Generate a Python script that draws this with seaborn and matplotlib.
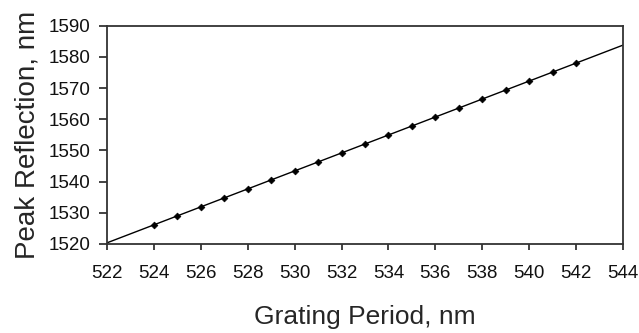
import numpy as np
import pandas as pd
import matplotlib
matplotlib.use("Agg")
import matplotlib.pyplot as plt
import seaborn as sns

# Data
grating_period = [524, 525, 526, 527, 528, 529, 530, 531, 532, 533,
                  534, 535, 536, 537, 538, 539, 540, 541, 542]
peak_reflection = [1526.1, 1529.1, 1531.8, 1534.9, 1537.7, 1540.5, 1543.4, 1546.2, 1549.3, 1552.0,
                   1555.0, 1557.9, 1560.7, 1563.6, 1566.4, 1569.4, 1572.2, 1575.2, 1578.0]
x_ticks = list(range(522, 545, 2))
y_ticks = list(range(1520, 1591, 10))

sns.set_style("ticks")
plt.rcParams['font.family'] = ['Liberation Sans', 'DejaVu Sans']

df = pd.DataFrame({"period": grating_period, "peak": peak_reflection})

# linear trendline across the axis range
coef = np.polyfit(df["period"], df["peak"], 1)
trend_x = np.array([x_ticks[0], x_ticks[-1]])
trend = pd.DataFrame({"period": trend_x, "peak": np.polyval(coef, trend_x)})

fig = plt.figure(figsize=(6.39, 3.33), dpi=100)
ax = fig.add_axes([107/639, 1 - 244/333, (623 - 107)/639, (244 - 25.7)/333])

sns.lineplot(data=trend, x="period", y="peak", ax=ax, color="black", linewidth=1.0)
sns.scatterplot(data=df, x="period", y="peak", ax=ax, color="black", marker="D",
                s=12, edgecolor="black", linewidth=0.5, zorder=3)

ax.set_xlim(x_ticks[0], x_ticks[-1])
ax.set_ylim(y_ticks[0], y_ticks[-1])
ax.set_xticks(x_ticks)
ax.set_yticks(y_ticks)
ax.tick_params(axis="both", labelsize=13.5, width=1.2, color="#222222",
               labelcolor="#111111")
ax.tick_params(axis="x", pad=11, length=4)
ax.tick_params(axis="y", pad=6, length=6)
for s in ax.spines.values():
    s.set_visible(True)
    s.set_linewidth(1.3)
    s.set_color("#333333")

ax.set_xlabel("Grating Period, nm", fontsize=19, labelpad=17)
ax.set_ylabel("Peak Reflection, nm", fontsize=20, labelpad=6)

fig.savefig("out.png", dpi=100)
